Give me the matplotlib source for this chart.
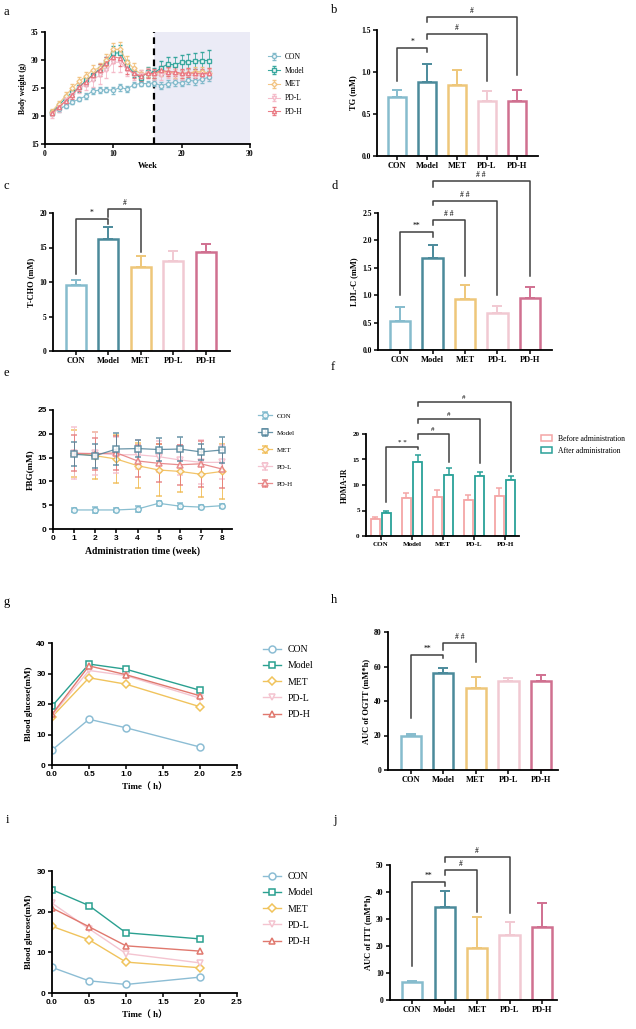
import numpy as np
import matplotlib
matplotlib.use('Agg')
import matplotlib.pyplot as plt
from matplotlib.patches import Patch

plt.rcParams['font.family'] = ['Liberation Serif', 'Noto Sans CJK SC']

groups = ['CON', 'Model', 'MET', 'PD-L', 'PD-H']

# ---- a: body weight over 24 weeks
weeks = list(range(1, 25))
bw_con = [20.5, 21.2, 21.8, 22.5, 23.0, 23.6, 24.5, 24.6, 24.7, 24.6, 25.1, 24.8,
          25.6, 25.8, 25.8, 25.9, 25.4, 25.8, 26.0, 25.9, 26.4, 26.2, 26.6, 26.9]
bw_model = [20.6, 21.8, 23.2, 24.2, 25.1, 26.4, 27.3, 28.4, 29.6, 31.2, 31.3, 29.1,
            27.7, 26.8, 27.8, 27.7, 28.6, 29.3, 29.1, 29.6, 29.7, 29.8, 29.9, 29.9]
bw_met = [20.8, 22.2, 23.6, 25.0, 26.2, 27.1, 28.3, 28.5, 30.0, 31.9, 31.9, 29.7,
          28.5, 27.5, 27.7, 27.5, 27.9, 27.9, 27.6, 27.5, 27.7, 27.9, 27.9, 27.7]
bw_pdl = [20.2, 21.4, 22.9, 23.8, 25.0, 25.6, 26.4, 27.3, 28.2, 29.6, 29.6, 28.3,
          27.5, 27.3, 27.6, 27.3, 27.3, 27.7, 27.5, 27.3, 27.5, 27.1, 27.3, 27.5]
bw_pdh = [20.5, 21.6, 22.6, 23.8, 25.2, 26.1, 27.3, 28.2, 29.4, 30.6, 30.3, 28.5,
          27.6, 27.1, 27.6, 27.6, 28.2, 27.9, 27.9, 27.6, 27.7, 27.6, 27.5, 27.7]
bw_con_e = [0.4, 0.4, 0.4, 0.4, 0.4, 0.5, 0.5, 0.5, 0.5, 0.6, 0.6, 0.5,
            0.5, 0.5, 0.5, 0.5, 0.6, 0.6, 0.6, 0.6, 0.6, 0.6, 0.7, 0.7]
bw_model_e = [0.5, 0.6, 0.6, 0.7, 0.8, 0.8, 0.9, 0.9, 1.0, 1.3, 1.4, 0.9,
              0.8, 0.7, 0.9, 0.9, 1.2, 1.3, 1.4, 1.3, 1.3, 1.4, 1.6, 1.8]
bw_met_e = [0.4, 0.5, 0.6, 0.7, 0.7, 0.8, 0.8, 0.9, 1.0, 1.1, 1.3, 1.0,
            0.9, 0.8, 0.8, 0.8, 0.8, 0.8, 0.8, 0.8, 0.8, 0.8, 0.8, 0.8]
bw_pdl_e = [0.5, 0.6, 0.7, 0.8, 0.9, 1.0, 1.3, 1.5, 1.5, 1.7, 1.7, 1.2,
            1.0, 0.9, 0.9, 0.9, 0.9, 0.9, 0.9, 0.9, 0.9, 0.9, 0.9, 0.9]
bw_pdh_e = [0.4, 0.5, 0.6, 0.7, 0.8, 0.8, 0.9, 1.0, 1.1, 1.2, 1.3, 1.0,
            0.9, 0.8, 0.8, 0.8, 0.8, 0.8, 0.8, 0.8, 0.8, 0.8, 0.9, 0.9]

# ---- bar panels (mean, error)
tg = [0.70, 0.88, 0.85, 0.66, 0.65]
tg_e = [0.08, 0.21, 0.17, 0.11, 0.13]
tcho = [9.6, 16.2, 12.2, 13.1, 14.4]
tcho_e = [0.7, 1.7, 1.6, 1.4, 1.1]
ldl = [0.53, 1.68, 0.93, 0.67, 0.94]
ldl_e = [0.25, 0.24, 0.25, 0.14, 0.21]
auc_ogtt = [19.7, 56.5, 47.6, 51.6, 51.6]
auc_ogtt_e = [1.1, 2.7, 6.5, 2.0, 3.3]
auc_itt = [6.5, 34.6, 19.3, 24.1, 27.2]
auc_itt_e = [0.7, 5.9, 11.6, 4.8, 8.6]

# ---- e: FBG
fbg_weeks = [1, 2, 3, 4, 5, 6, 7, 8]
fbg_con = [4.0, 4.0, 4.0, 4.2, 5.4, 4.8, 4.6, 4.9]
fbg_model = [15.7, 15.4, 16.8, 16.9, 16.7, 16.8, 16.2, 16.6]
fbg_met = [15.9, 15.4, 14.7, 13.3, 12.4, 12.1, 11.5, 12.1]
fbg_pdl = [15.9, 15.9, 15.6, 15.6, 15.2, 14.5, 14.0, 14.0]
fbg_pdh = [15.9, 15.8, 16.0, 14.3, 13.8, 13.5, 13.7, 12.6]
fbg_con_e = [0.4, 0.7, 0.4, 0.7, 0.5, 0.6, 0.4, 0.4]
fbg_model_e = [2.5, 2.5, 3.4, 1.7, 2.5, 2.6, 1.7, 2.8]
fbg_met_e = [4.9, 5.0, 5.0, 4.7, 5.5, 4.4, 4.7, 5.8]
fbg_pdl_e = [5.5, 4.5, 3.8, 3.0, 3.2, 3.2, 4.6, 3.6]
fbg_pdh_e = [3.8, 3.4, 3.6, 3.4, 4.0, 4.2, 4.8, 4.0]

# ---- f: HOMA-IR
homa_before = [3.4, 7.5, 7.7, 7.1, 7.9]
homa_before_e = [0.4, 1.0, 1.3, 1.0, 1.6]
homa_after = [4.5, 14.6, 12.0, 11.8, 11.0]
homa_after_e = [0.5, 1.3, 1.4, 0.8, 0.8]

# ---- g: OGTT, i: ITT
times = [0.0, 0.5, 1.0, 2.0]
ogtt_con = [4.9, 15.0, 12.2, 5.9]
ogtt_model = [19.3, 33.1, 31.4, 24.5]
ogtt_met = [15.8, 28.6, 26.5, 19.1]
ogtt_pdl = [16.3, 31.0, 29.3, 21.9]
ogtt_pdh = [16.6, 32.5, 29.6, 22.7]
itt_con = [6.3, 3.0, 2.1, 3.9]
itt_model = [25.4, 21.5, 14.8, 13.3]
itt_met = [16.4, 13.1, 7.6, 6.2]
itt_pdl = [22.1, 15.8, 9.7, 7.4]
itt_pdh = [20.9, 16.3, 11.6, 10.3]

# significance brackets: (x1, x2, top, leg1 end, leg2 end, label)
b_sig = [(0, 1, 1.29, 0.89, 1.24, '*'), (1, 3, 1.45, 1.39, 0.89, '#'), (1, 4, 1.65, 1.59, 0.97, '#')]
c_sig = [(0, 1, 19.1, 11.2, 18.4, '*'), (1, 2, 20.6, 19.4, 14.4, '#')]
d_sig = [(0, 1, 2.15, 1.0, 2.06, '**'), (1, 2, 2.37, 2.28, 1.35, '# #'),
         (1, 3, 2.72, 2.65, 1.0, '# #'), (1, 4, 3.08, 2.97, 1.35, '# #')]
f_sig = [(0.18, 1.18, 17.5, 6.7, 17.0, '* *'), (1.18, 2.18, 20.0, 19.1, 14.6, '#'),
         (1.18, 3.18, 22.9, 22.2, 14.3, '#'), (1.18, 4.18, 26.3, 25.5, 12.5, '#')]
h_sig = [(0, 1, 66.5, 30.4, 65.1, '**'), (1, 2, 73.6, 69.7, 62.6, '# #')]
j_sig = [(0, 1, 43.6, 12.7, 42.2, '**'), (1, 2, 48.0, 46.3, 32.7, '#'), (1, 3, 53.1, 51.2, 32.3, '#')]

bar_cols = ['#86bccd', '#4b8a9b', '#eec77a', '#f1c9d2', '#d07090']
a_cols = ['#7ab6c8', '#27a096', '#f2c07a', '#f4b6c6', '#e8707a']
e_cols = ['#74b3c8', '#4f8299', '#f0b94d', '#f3b9c8', '#e5797a']
g_cols = ['#8cbdd4', '#2aa090', '#f0c35c', '#f4c4d0', '#e0786e']
marks = ['o', 's', 'D', 'v', '^']

W, H = 636, 1029
fig = plt.figure(figsize=(W / 100, H / 100), dpi=100)


def add_ax(l, t, r, b):
    return fig.add_axes([l / W, 1 - b / H, (r - l) / W, (b - t) / H])


def style(ax, sans=False, size=5.5):
    for s in ['top', 'right']:
        ax.spines[s].set_visible(False)
    for s in ['left', 'bottom']:
        ax.spines[s].set_linewidth(1.3)
    ax.tick_params(width=1.1, length=3, labelsize=size, pad=1.5)
    for lab in ax.get_xticklabels() + ax.get_yticklabels():
        lab.set_fontweight('bold')
        if sans:
            lab.set_fontfamily('Liberation Sans')


def brackets(ax, sig, fs=5.5):
    for x1, x2, top, l1, l2, txt in sig:
        ax.plot([x1, x1, x2, x2], [l1, top, top, l2], color='#404040', lw=1.1, clip_on=False)
        ax.annotate(txt, ((x1 + x2) / 2, top), xytext=(0, 1.5), textcoords='offset points',
                    ha='center', va='bottom', fontsize=fs, annotation_clip=False)


def bar_panel(ax, vals, errs, xlim, ylim, yticks, ylabel, sig, fmt):
    x = np.arange(5)
    for i in range(5):
        ax.errorbar(x[i], vals[i], yerr=[[0], [errs[i]]], color=bar_cols[i], capsize=3.5,
                    lw=1.4, capthick=1.4, zorder=1)
        ax.bar(x[i], vals[i], width=0.62, facecolor='white', edgecolor=bar_cols[i],
               linewidth=1.8, zorder=2)
    ax.set_xlim(*xlim)
    ax.set_ylim(*ylim)
    ax.set_yticks(yticks)
    ax.set_yticklabels([fmt.format(v) for v in yticks])
    ax.set_xticks(x)
    ax.set_xticklabels(groups)
    ax.tick_params(axis='x', length=0, pad=4)
    ax.set_ylabel(ylabel, fontsize=6, fontweight='bold', labelpad=3)
    style(ax)
    ax.tick_params(axis='x', labelsize=6)
    brackets(ax, sig)


def letter(x, y, s):
    fig.text(x / W, 1 - y / H, s, fontsize=9, va='center', ha='left')


# ===== a
ax = add_ax(45, 32, 250, 144)
ax.axvspan(16, 30, color='#ebebf6', zorder=0, lw=0)
ax.plot([16, 16], [15, 35], color='black', lw=1.6, ls=(0, (3, 2)), zorder=1)
a_series = [(bw_con, bw_con_e), (bw_model, bw_model_e), (bw_met, bw_met_e),
            (bw_pdl, bw_pdl_e), (bw_pdh, bw_pdh_e)]
for i, (v, e) in enumerate(a_series):
    ax.errorbar(weeks, v, yerr=e, color=a_cols[i], lw=0.8, capsize=1.5, elinewidth=0.6,
                alpha=0.9, marker=marks[i], ms=3.0 if i != 2 else 2.6, mfc='white',
                mew=1.0, label=groups[i], zorder=3)
ax.set_xlim(0, 30)
ax.set_ylim(15, 35)
ax.set_xticks([0, 10, 20, 30])
ax.set_yticks([15, 20, 25, 30, 35])
ax.set_xlabel('Week', fontsize=6, fontweight='bold', labelpad=3)
ax.set_ylabel('Body weight (g)', fontsize=5.5, fontweight='bold', labelpad=3)
style(ax)
h, l = ax.get_legend_handles_labels()
ax.legend(h, l, loc='upper left', bbox_to_anchor=(268 / W, 1 - 53 / H), bbox_transform=fig.transFigure,
          frameon=False, fontsize=5.5, handlelength=1.6, labelspacing=0.75, borderaxespad=0,
          borderpad=0, handletextpad=0.6)
letter(4, 12, 'a')

# ===== b
ax = add_ax(377, 30, 538, 156)
bar_panel(ax, tg, tg_e, (-0.67, 4.7), (0, 1.5), [0.0, 0.5, 1.0, 1.5], 'TG (mM)', b_sig, '{:.1f}')
letter(331, 10, 'b')

# ===== c
ax = add_ax(53, 213, 230, 351)
bar_panel(ax, tcho, tcho_e, (-0.7, 4.74), (0, 20), [0, 5, 10, 15, 20], 'T-CHO (mM)', c_sig, '{:d}')
letter(4, 186, 'c')

# ===== d
ax = add_ax(378, 213, 552, 350)
bar_panel(ax, ldl, ldl_e, (-0.68, 4.68), (0, 2.5), [0.0, 0.5, 1.0, 1.5, 2.0, 2.5], 'LDL-C (mM)', d_sig, '{:.1f}')
letter(331, 186, 'd')

# ===== e
ax = add_ax(53, 410, 232, 529)
e_series = [(fbg_con, fbg_con_e), (fbg_model, fbg_model_e), (fbg_met, fbg_met_e),
            (fbg_pdl, fbg_pdl_e), (fbg_pdh, fbg_pdh_e)]
for i, (v, e) in enumerate(e_series):
    ax.errorbar(fbg_weeks, v, yerr=e, color=e_cols[i], lw=0.9, capsize=2, elinewidth=0.7,
                alpha=0.85, marker=marks[i], ms=4 if i != 2 else 3.4, mfc='white', mew=1.1,
                label=groups[i], zorder=3 if i < 2 else 2)
ax.set_xlim(0, 8.47)
ax.set_ylim(0, 25)
ax.set_xticks(range(0, 9))
ax.set_yticks([0, 5, 10, 15, 20, 25])
ax.set_xlabel('Administration time (week)', fontsize=7, fontweight='bold', labelpad=3)
ax.set_ylabel('FBG(mM)', fontsize=6.5, fontweight='bold', labelpad=2)
style(ax, sans=True, size=6)
h, l = ax.get_legend_handles_labels()
ax.legend(h, l, loc='upper left', bbox_to_anchor=(258 / W, 1 - 413 / H), bbox_transform=fig.transFigure,
          frameon=False, fontsize=5, handlelength=2.0, labelspacing=1.6, borderaxespad=0,
          borderpad=0, handletextpad=0.7)
letter(4, 373, 'e')

# ===== f
ax = add_ax(366, 434, 519, 536)
x = np.arange(5)
for i in range(5):
    ax.errorbar(x[i] - 0.18, homa_before[i], yerr=[[0], [homa_before_e[i]]], color='#f4a6a6',
                capsize=2.5, lw=1.1, capthick=1.1, zorder=1)
    ax.errorbar(x[i] + 0.18, homa_after[i], yerr=[[0], [homa_after_e[i]]], color='#2aa198',
                capsize=2.5, lw=1.1, capthick=1.1, zorder=1)
ax.bar(x - 0.18, homa_before, width=0.3, facecolor='white', edgecolor='#f4a6a6', lw=1.3, zorder=2,
       label='Before administration')
ax.bar(x + 0.18, homa_after, width=0.3, facecolor='white', edgecolor='#2aa198', lw=1.3, zorder=2,
       label='After administration')
ax.set_xlim(-0.48, 4.45)
ax.set_ylim(0, 20)
ax.set_yticks([0, 5, 10, 15, 20])
ax.set_xticks(x)
ax.set_xticklabels(groups)
ax.tick_params(axis='x', length=0, pad=4)
ax.set_ylabel('HOMA-IR', fontsize=5.5, fontweight='bold', labelpad=3)
style(ax, size=5)
brackets(ax, f_sig, fs=5)
hs = [Patch(facecolor='white', edgecolor='#f4a6a6', lw=1.1), Patch(facecolor='white', edgecolor='#2aa198', lw=1.1)]
ax.legend(hs, ['Before administration', 'After administration'], loc='upper left',
          bbox_to_anchor=(541 / W, 1 - 435 / H), bbox_transform=fig.transFigure, frameon=False,
          fontsize=5.5, handlelength=1.4, handleheight=0.8, labelspacing=0.5, borderaxespad=0,
          borderpad=0, handletextpad=0.8)
letter(331, 367, 'f')


def tolerance(ax, series, ylim, yticks, top_legend):
    for i, v in enumerate(series):
        ax.plot(times, v, color=g_cols[i], lw=1.0, marker=marks[i], ms=5 if i != 2 else 4.4,
                mfc='white', mew=1.1, label=groups[i])
    ax.set_xlim(0, 2.5)
    ax.set_ylim(*ylim)
    ax.set_xticks([0.0, 0.5, 1.0, 1.5, 2.0, 2.5])
    ax.set_xticklabels(['0.0', '0.5', '1.0', '1.5', '2.0', '2.5'])
    ax.set_yticks(yticks)
    ax.set_xlabel('Time（ h）', fontsize=6.5, fontweight='bold', labelpad=3)
    ax.set_ylabel('Blood glucose(mM)', fontsize=6.5, fontweight='bold', labelpad=2)
    style(ax, sans=True, size=6)
    h, l = ax.get_legend_handles_labels()
    ax.legend(h, l, loc='upper left', bbox_to_anchor=(263 / W, 1 - top_legend / H),
              bbox_transform=fig.transFigure, frameon=False, fontsize=7, handlelength=1.8,
              labelspacing=0.75, borderaxespad=0, borderpad=0, handletextpad=0.7)


# ===== g
ax = add_ax(52, 643, 237, 765)
tolerance(ax, [ogtt_con, ogtt_model, ogtt_met, ogtt_pdl, ogtt_pdh], (0, 40), [0, 10, 20, 30, 40], 645)
letter(4, 602, 'g')

# ===== h
ax = add_ax(388, 632, 558, 770)
bar_panel(ax, auc_ogtt, auc_ogtt_e, (-0.7, 4.52), (0, 80), [0, 20, 40, 60, 80], 'AUC of OGTT (mM*h)', h_sig, '{:d}')
letter(331, 600, 'h')

# ===== i
ax = add_ax(52, 871, 237, 993)
tolerance(ax, [itt_con, itt_model, itt_met, itt_pdl, itt_pdh], (0, 30), [0, 10, 20, 30], 872)
letter(6, 820, 'i')

# ===== j
ax = add_ax(390, 865, 557, 1000)
bar_panel(ax, auc_itt, auc_itt_e, (-0.68, 4.46), (0, 50), [0, 10, 20, 30, 40, 50], 'AUC of ITT (mM*h)', j_sig, '{:d}')
letter(333, 820, 'j')

fig.savefig('out.png', dpi=100)
